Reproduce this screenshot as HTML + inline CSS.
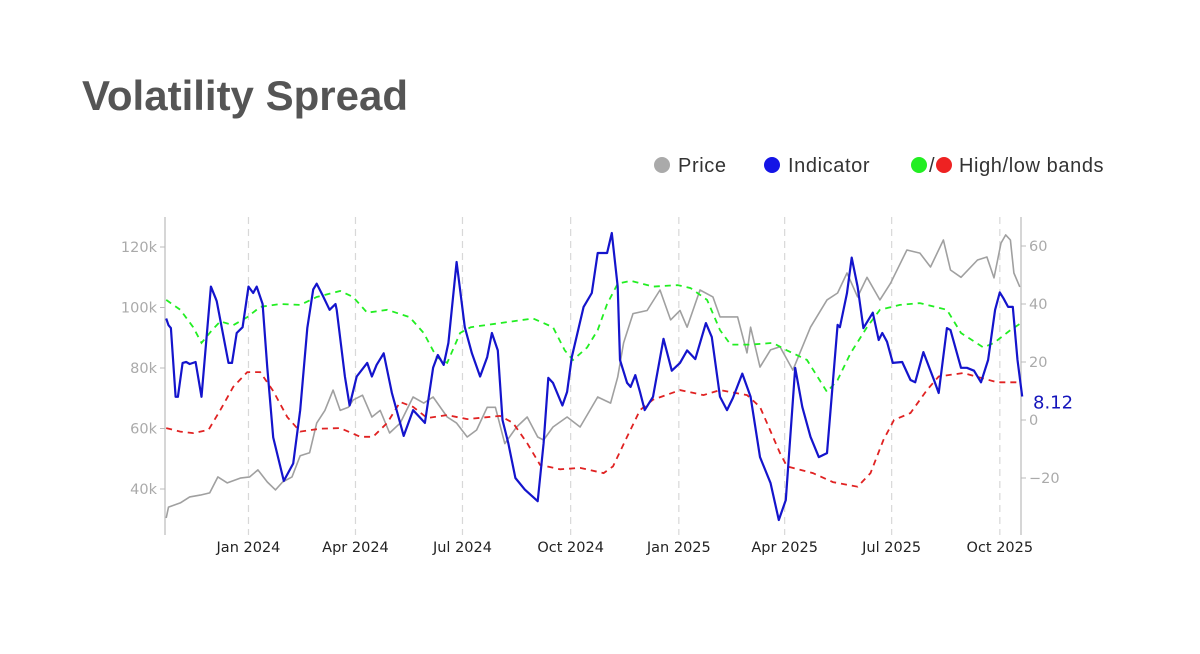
<!DOCTYPE html>
<html><head><meta charset="utf-8">
<style>
body{margin:0;background:#fff;width:1200px;height:649px;overflow:hidden;font-family:"Liberation Sans",sans-serif}
</style></head>
<body>
<svg width="1200" height="649" xmlns="http://www.w3.org/2000/svg">
<text x="82" y="110" font-size="42" font-weight="bold" fill="#555" font-family="Liberation Sans, sans-serif">Volatility Spread</text>
<g font-size="20" letter-spacing="0.6" fill="#333" font-family="Liberation Sans, sans-serif">
<g><circle cx="662" cy="165" r="8" fill="#aaa"/><text x="678" y="172">Price</text></g>
<g><circle cx="772" cy="165" r="8" fill="#1414e6"/><text x="788" y="172">Indicator</text></g>
<g><circle cx="919" cy="165" r="8" fill="#22ee22"/><text x="929" y="172">/</text><circle cx="944" cy="165" r="8" fill="#ee2222"/><text x="959" y="172">High/low bands</text></g>
</g>
<g id="plot"></g>
</svg>
<script>
const tickDays=[71,162,253,345,437,527,618,710];
const tickLabels=["Jan 2024","Apr 2024","Jul 2024","Oct 2024","Jan 2025","Apr 2025","Jul 2025","Oct 2025"];
const leftTicks=[40,60,80,100,120];
const rightTicks=[-20,0,20,40,60];
const indDays=[1,3,5,9,11,15,18,21,26,31,39,43,44,54,57,61,66,71,75,78,83,87,92,101,109,115,121,126,129,134,140,145,146,153,157,163,172,176,180,186,193,203,211,221,228,232,237,241,248,255,261,268,274,278,283,287,292,298,306,317,322,326,330,338,342,346,356,363,368,376,380,385,387,393,396,400,404,408,415,424,431,438,444,451,460,465,472,478,483,491,498,506,515,522,528,536,542,549,556,563,572,574,580,584,589,594,602,607,610,614,619,627,634,638,645,654,658,665,668,677,682,688,694,700,706,710,713,717,721,725,729];
const indVals=[35,32.7,31.7,8,8,19.7,20,19.3,20,8,46,42,41,19.7,19.7,30,32,46,43.8,46,40,18,-6,-21,-15,3.4,31.7,45,47,43,38,40,38,15,5,15,19.7,15,19,23,9.3,-5.5,3.4,-1,18,22.4,19,26.6,54.5,32,23,15,21.7,30,24,0,-8,-20,-24,-28,-8,14.5,12.8,5,9.7,21.7,39,43.8,57.6,57.6,64.5,46,20.7,12.8,11.4,15.5,9.7,3.4,8,28,17,19.7,24,21,33.4,28.6,8,3.4,7.6,16,8,-12.8,-21.7,-34.5,-27.6,18,4.5,-5.8,-12.8,-11.4,32.8,32,43.8,56,46,31.7,37,27.6,30,27,19.7,20,13.8,13,23.4,13.8,9.3,31.7,31,18,18,17,13,20.7,38,44,42,39,39,20.7,8.12];
const hiDays=[1,13,24,31,40,47,58,70,81,98,115,129,149,160,172,189,208,220,231,240,251,260,285,313,330,340,347,359,368,376,385,396,415,436,447,461,472,481,498,517,529,546,563,572,583,597,608,625,642,665,677,696,705,719,728];
const hiVals=[41.4,38,32,26.6,31,34,32.7,35.5,39,40,39.7,42.4,44.5,42.4,37,38,35.5,30,21.7,19.7,30,32,33.4,35,32,24,20.7,25,31,40,47,48,46,46.5,45.5,41.4,31,26,26,26.6,24,20.7,9.7,13.8,23,32,38,39.7,40.3,38,30,25,26.6,31,33.4];
const loDays=[1,13,24,37,47,58,70,81,92,104,115,132,149,166,177,189,200,211,223,240,257,285,296,308,319,336,353,373,381,393,404,415,438,458,472,495,506,523,529,551,568,589,600,611,620,634,648,658,679,694,708,727];
const loVals=[-2.8,-4,-4.5,-3.4,3.4,11.4,16.5,16.5,10,1,-4,-3,-2.8,-5.8,-5.8,-1,6.2,4.5,0.7,1.7,0.3,1.4,-1,-8,-15.5,-17,-16.5,-18.3,-16,-5.8,3.4,7,10.3,8.6,10.3,8.6,4.5,-11.4,-16,-18.3,-21.4,-23,-18.3,-6.9,0,2.4,10.3,15,16.2,14.5,13,13];
const priceDays=[1,3,13,21,30,38,45,53,64,72,79,87,94,100,108,115,123,129,136,143,149,156,160,168,176,183,191,200,211,220,228,240,248,257,265,274,281,289,299,308,317,322,330,342,353,368,379,385,390,398,410,421,430,438,444,455,466,472,487,495,498,506,515,523,534,540,549,563,572,580,589,597,608,617,631,642,651,662,668,677,691,699,705,711,715,719,722,727];
const priceVals=[30.4,34,35.4,37.4,38,38.7,44,42,43.6,44,46.3,42.3,39.7,42.3,44,51,52,61.8,66,72.7,66,67,69.4,71,63.8,66,58.5,61.8,70.4,68.4,70.4,63.8,61.8,57.2,59.5,67,67,55,60.5,63.8,57.2,56.2,60.5,63.8,60.5,70.4,68.4,77,88.3,98,99,105.8,95.9,99,93.5,105.8,103.5,96.9,96.9,85,93.5,80.3,86,87,79.3,85,93.5,102.5,104.8,111.4,103.5,110,102.5,108,119,118,113.4,122.3,112.4,110,115.7,116.7,109.8,121.3,124,122.3,111.4,106.8];

const NS="http://www.w3.org/2000/svg";
const L=165,R=1021,T=217,B=535;
const xs=d=>L+d*(R-L)/728;
const yl=p=>489-(p-40)*3.025;
const yr=v=>420-v*2.9;
const g=document.getElementById('plot');
function mk(tag,attrs){const e=document.createElementNS(NS,tag);for(const k in attrs)e.setAttribute(k,attrs[k]);g.appendChild(e);return e;}
tickDays.forEach((d,i)=>{
  const gl=mk('line',{x1:xs(d),x2:xs(d),y1:T,y2:B,stroke:'#d8d8d8','stroke-width':1.2,'stroke-dasharray':'7,5'});
  
  
  const t=mk('text',{x:xs(d),y:552,'text-anchor':'middle','font-size':14.5,fill:'#222','font-family':'DejaVu Sans, sans-serif'});
  t.textContent=tickLabels[i];
  
  
});
const la=mk('line',{x1:L,x2:L,y1:T,y2:B,stroke:'#bbb','stroke-width':1.2});


const ra=mk('line',{x1:R,x2:R,y1:T,y2:B,stroke:'#bbb','stroke-width':1.2});


leftTicks.forEach(p=>{
  const tk=mk('line',{x1:L-5,x2:L,y1:yl(p),y2:yl(p),stroke:'#bbb'});
  
  
  const t=mk('text',{x:L-8,y:yl(p)+5,'text-anchor':'end','font-size':14.5,fill:'#aaa','font-family':'DejaVu Sans, sans-serif'});
  t.textContent=p+'k';
  
  
});
rightTicks.forEach(v=>{
  const tk=mk('line',{x1:R,x2:R+5,y1:yr(v),y2:yr(v),stroke:'#bbb'});
  
  
  const t=mk('text',{x:R+8,y:yr(v)+5,'font-size':14.5,fill:'#aaa','font-family':'DejaVu Sans, sans-serif'});
  t.textContent=v<0?'\u2212'+(-v):String(v);
  
  
});
function path(days,vals,yf){return days.map((d,i)=>(i?'L':'M')+xs(d).toFixed(1)+','+yf(vals[i]).toFixed(1)).join('');}
const pp=mk('path',{d:path(priceDays,priceVals,yl),fill:'none',stroke:'#a0a0a0','stroke-width':1.6,'stroke-linejoin':'round'});


const hp=mk('path',{d:path(hiDays,hiVals,yr),fill:'none',stroke:'#22ee22','stroke-width':1.8,'stroke-dasharray':'6,5'});


const lp=mk('path',{d:path(loDays,loVals,yr),fill:'none',stroke:'#e02222','stroke-width':1.8,'stroke-dasharray':'6,5'});


const ip=mk('path',{d:path(indDays,indVals,yr),fill:'none',stroke:'#1414cc','stroke-width':2.2,'stroke-linejoin':'round'});


const last=indVals[indVals.length-1];
const lv=mk('text',{x:1033,y:yr(last)+12,'font-size':18,fill:'#1414bb','font-family':'DejaVu Sans, sans-serif'});
lv.textContent=last.toFixed(2);


</script>
</body></html>
